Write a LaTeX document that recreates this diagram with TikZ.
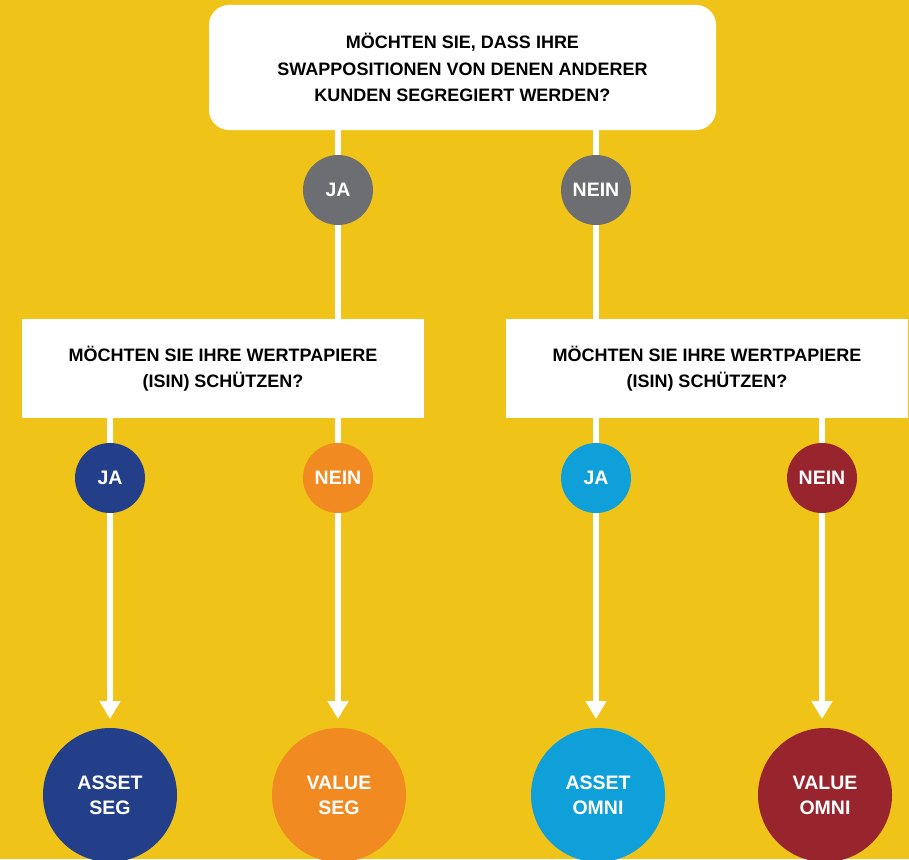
\documentclass[tikz,border=0pt]{standalone}
\usepackage{fontspec}
\setmainfont{Liberation Sans}
\usetikzlibrary{arrows.meta}
\definecolor{bgyellow}{HTML}{EFC318}
\definecolor{qgray}{HTML}{6D6E71}
\definecolor{dblue}{HTML}{243F8A}
\definecolor{orng}{HTML}{F08A21}
\definecolor{lblue}{HTML}{0FA0DA}
\definecolor{dred}{HTML}{98242E}
\begin{document}
\begin{tikzpicture}[x=1pt,y=-1pt,
  txt/.style={font=\fontsize{18}{26.5}\selectfont\bfseries, align=center},
  qbox/.style={txt, fill=white, text=black, inner sep=0pt},
  ans/.style={txt, circle, text=white, minimum size=70pt, inner sep=0pt, font=\fontsize{19.5}{25}\selectfont\bfseries},
  res/.style={txt, circle, text=white, minimum size=134pt, inner sep=0pt, font=\fontsize{19.5}{25}\selectfont\bfseries},
  wline/.style={draw=white, line width=6pt},
  warrow/.style={wline, -{Triangle[width=20pt,length=18pt]}}]
\fill[bgyellow] (0,0) rectangle (909,859);
\useasboundingbox (0,0) rectangle (909,859);
% question boxes
\node[qbox, minimum width=507pt, minimum height=125pt, rounded corners=20pt] (q0) at (462.5,67.5)
  {MÖCHTEN SIE, DASS IHRE\\SWAPPOSITIONEN VON DENEN ANDERER\\KUNDEN SEGREGIERT WERDEN?};
\node[qbox, minimum width=402pt, minimum height=99pt] (q1) at (223,368.5)
  {MÖCHTEN SIE IHRE WERTPAPIERE\\(ISIN) SCHÜTZEN?};
\node[qbox, minimum width=402pt, minimum height=99pt] (q2) at (707,368.5)
  {MÖCHTEN SIE IHRE WERTPAPIERE\\(ISIN) SCHÜTZEN?};
% first answers
\node[ans, fill=qgray] (a1) at (338,190) {JA};
\node[ans, fill=qgray] (a2) at (596,190) {NEIN};
% second answers
\node[ans, fill=dblue] (b1) at (110,478) {JA};
\node[ans, fill=orng] (b2) at (338,478) {NEIN};
\node[ans, fill=lblue] (b3) at (596,478) {JA};
\node[ans, fill=dred] (b4) at (822,478) {NEIN};
% results
\node[res, fill=dblue] (r1) at (110,795) {ASSET\\SEG};
\node[res, fill=orng] (r2) at (339,795) {VALUE\\SEG};
\node[res, fill=lblue] (r3) at (598,795) {ASSET\\OMNI};
\node[res, fill=dred] (r4) at (825,795) {VALUE\\OMNI};
\coordinate (t1) at (110,719);
\coordinate (t2) at (338,719);
\coordinate (t3) at (596,719);
\coordinate (t4) at (822,719);
% connectors
\draw[wline] (a1 |- q0.south) -- (a1.north);
\draw[wline] (a2 |- q0.south) -- (a2.north);
\draw[wline] (a1.south) -- (a1 |- q1.north);
\draw[wline] (a2.south) -- (a2 |- q2.north);
\draw[wline] (b1 |- q1.south) -- (b1.north);
\draw[wline] (b2 |- q1.south) -- (b2.north);
\draw[wline] (b3 |- q2.south) -- (b3.north);
\draw[wline] (b4 |- q2.south) -- (b4.north);
\draw[warrow] (b1.south) -- (t1);
\draw[warrow] (b2.south) -- (t2);
\draw[warrow] (b3.south) -- (t3);
\draw[warrow] (b4.south) -- (t4);
\end{tikzpicture}
\end{document}
